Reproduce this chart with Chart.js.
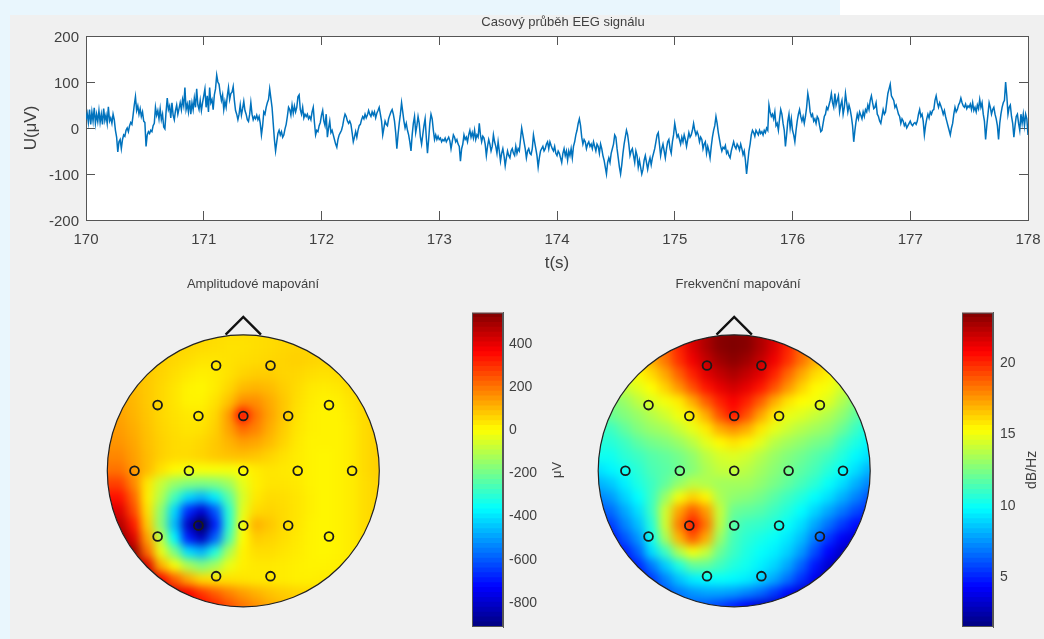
<!DOCTYPE html>
<html lang="cs">
  <head>
    <meta charset="UTF-8" />
    <title>EEG mapovani</title>
    <style>
      html, body { margin: 0; height: 100%; overflow: hidden; background: #f0f0f0; }
      canvas { position: absolute; filter: blur(0.45px); }
      .pas { position: absolute; }
    </style>
  </head>

  <body>
    <div class="pas" style="left:0;top:0;width:840px;height:15px;background:#e9f6fd"></div>
    <div class="pas" style="left:840px;top:0;width:204px;height:15px;background:#ffffff"></div>
    <div class="pas" style="left:0;top:0;width:10px;height:639px;background:#e9f6fd"></div>
    <canvas id="signal" style="left:10px;top:13px" width="1106" height="262"></canvas>
    <canvas id="mapaA" style="left:0;top:270px" width="506" height="376"></canvas>
    <canvas id="barA" style="left:462px;top:300px" width="110" height="339"></canvas>
    <canvas id="mapaF" style="left:485px;top:270px" width="506" height="376"></canvas>
    <canvas id="barF" style="left:952px;top:300px" width="92" height="339"></canvas>
    <script src="https://cdn.jsdelivr.net/npm/chart.js"></script>
    <script>
      const casStart = 170;
      const casKrok = 0.01;
      const signal = [
        18,32,12,40,8,35,15,44,10,30,
        14,38,12,30,8,42,16,28,10,46,
        15,22,10,30,18,-5,-20,-52,-30,-25,
        -45,-25,-15,-18,-5,0,-8,5,12,8,
        28,50,68,38,48,30,42,25,35,15,
        12,-40,-15,-8,-12,-5,-8,5,10,45,
        28,38,20,42,18,30,2,-2,35,65,
        40,48,22,55,28,18,38,50,30,42,
        55,40,62,48,88,40,52,35,60,30,
        55,40,65,45,85,50,40,60,38,55,
        70,85,45,70,35,88,55,62,40,72,
        85,115,100,95,75,60,72,40,58,45,
        70,88,62,75,78,90,60,38,30,18,
        30,50,28,42,58,38,30,18,14,30,
        55,30,18,25,20,28,18,25,10,-15,
        5,35,30,45,55,62,85,65,45,10,
        -25,-50,-30,-12,-5,-15,-8,-20,-15,-2,
        8,25,45,40,28,50,32,48,35,45,
        68,72,40,30,45,22,30,25,30,20,
        25,18,35,45,12,-15,-5,-8,5,12,
        28,38,15,5,30,-20,0,15,-10,-5,
        -15,-25,-35,-42,-25,-15,-10,-5,5,20,
        30,25,15,10,15,8,-10,-30,-20,-8,
        -20,-5,5,8,18,25,20,30,22,28,
        38,30,25,35,28,35,22,32,38,45,
        30,15,-15,0,15,8,5,20,28,35,
        40,30,15,-10,-45,-15,10,30,55,35,
        15,0,10,-5,-15,-30,-50,-15,10,25,
        -10,5,25,10,-20,-35,-15,5,20,-20,
        -55,-25,10,30,20,-5,-25,-15,-25,-18,
        -25,-22,-30,-25,-28,-22,-30,-25,-20,-28,
        -45,-30,-15,-20,-30,-25,-35,-40,-72,-45,
        -35,-15,-25,-20,-30,-15,-5,-20,-10,-22,
        -5,-25,-15,-20,10,-15,-30,-18,-22,-35,
        -60,-40,-25,-35,-50,-40,-15,-30,-40,-55,
        -30,-50,-72,-55,-45,-60,-82,-65,-50,-60,
        -65,-50,-45,-55,-60,-40,-55,-45,-50,-25,
        0,-15,-30,-45,-65,-50,-45,-55,-58,-45,
        -15,-30,-45,-60,-85,-65,-50,-45,-40,-50,
        -45,-35,-30,-45,-30,-38,-45,-50,-40,-55,
        -60,-50,-55,-65,-75,-55,-45,-60,-50,-70,
        -50,-60,-45,-65,-40,-30,-15,-5,10,20,
        5,-20,-35,-25,-30,-45,-35,-30,-40,-35,
        -45,-30,-40,-50,-35,-40,-55,-35,-45,-60,
        -70,-85,-100,-75,-65,-75,-55,-45,-35,-15,
        -20,-45,-65,-85,-100,-80,-55,-35,-20,-5,
        -15,-35,-60,-50,-45,-60,-75,-50,-60,-85,
        -70,-85,-100,-90,-70,-60,-75,-90,-75,-65,
        -80,-65,-55,-45,-30,-15,-10,-35,-60,-45,
        -35,-50,-65,-45,-30,-25,-45,-55,-30,-15,
        10,-5,-20,-15,-25,-35,-20,-30,-15,-25,
        -40,-25,-10,-20,-15,-5,10,-5,-15,-8,
        -15,-30,-20,-25,-45,-35,-30,-55,-40,-50,
        -65,-40,-20,-5,5,25,10,-10,-25,-40,
        -50,-42,-45,-38,-55,-50,-60,-65,-50,-40,
        -30,-40,-45,-35,-40,-48,-35,-45,-58,-50,
        -70,-100,-75,-50,-35,-15,-5,-10,-18,-5,
        -10,-15,-5,-12,-8,-15,-5,-10,0,-5,
        50,35,25,30,20,35,5,10,-5,20,
        40,30,10,-5,-40,-15,15,30,0,20,
        -5,-15,-30,-5,15,30,40,25,15,25,
        10,25,45,75,60,35,25,30,15,20,
        10,25,20,5,-8,-5,10,25,30,45,
        40,50,60,75,55,45,75,50,60,70,
        35,50,60,30,45,75,55,35,50,40,
        25,5,-30,-5,15,30,20,35,28,20,
        35,25,40,35,50,40,60,70,55,42,
        45,55,30,25,15,10,25,40,30,35,
        55,75,85,95,70,65,60,45,50,40,
        30,25,10,20,15,5,10,0,5,10,
        15,8,5,10,12,8,15,30,40,25,
        30,15,-15,5,20,30,22,35,30,38,
        40,60,70,55,45,55,48,40,30,38,
        25,15,5,-5,-15,0,10,30,45,35,
        40,50,55,65,55,48,45,52,42,48,
        45,52,40,55,38,45,35,50,42,62,
        45,55,30,15,-25,5,30,55,45,30,
        40,45,30,20,5,-25,10,30,45,55,
        60,100,70,30,45,50,25,10,-20,5,
        25,30,10,-5,30,10,30,5,30,20,
        -15
      ];
      const signalTickyY = [-200, -100, 0, 100, 200];

      const mrizka = [-1,-0.9,-0.8,-0.7,-0.6,-0.5,-0.4,-0.3,-0.2,-0.1,0,0.1,0.2,0.3,0.4,0.5,0.6,0.7,0.8,0.9,1];
      const elektrodyX = [-0.2,0.2,-0.63,-0.33,0,0.33,0.63,-0.8,-0.4,0,0.4,0.8,-0.63,-0.33,0,0.33,0.63,-0.2,0.2];
      const elektrodyY = [0.77,0.77,0.48,0.4,0.4,0.4,0.48,0,0,0,0,0,-0.48,-0.4,-0.4,-0.4,-0.48,-0.77,-0.77];
      const nosX = [-0.13, 0, 0.13];
      const nosY = [0.995, 1.125, 0.995];

      // radky od y=1 dolu k y=-1, sloupce od x=-1 do x=1
      const amplituda = [
        [80,80,80,70,60,55,50,45,40,35,35,35,40,45,50,50,50,50,50,50,50],
        [80,80,80,70,60,50,45,40,35,30,30,35,40,45,50,50,50,50,50,50,50],
        [85,85,85,70,55,45,35,25,25,30,35,40,45,50,55,50,45,50,50,50,50],
        [90,90,85,65,50,35,20,10,15,30,50,60,60,50,45,35,30,35,45,50,50],
        [100,100,85,65,45,25,5,0,15,45,85,95,85,60,40,20,15,20,35,50,50],
        [110,110,90,65,45,25,5,5,30,75,150,150,110,70,35,15,5,10,25,45,50],
        [120,120,95,70,45,30,20,20,45,130,340,190,120,70,30,10,5,5,20,40,50],
        [130,130,105,75,50,35,25,30,55,120,200,165,105,60,25,10,5,5,15,40,55],
        [140,140,115,80,55,40,35,45,65,95,125,115,85,50,20,5,5,5,15,40,55],
        [160,160,125,85,55,40,40,50,65,75,80,70,50,30,15,5,0,5,15,40,55],
        [190,190,135,85,30,-5,-25,-20,-20,-25,-10,15,25,20,15,5,0,5,15,40,55],
        [260,260,160,20,-90,-160,-190,-200,-190,-150,-50,10,25,25,20,5,0,5,15,35,50],
        [330,330,210,10,-120,-280,-430,-480,-400,-250,-70,20,40,35,25,10,0,5,15,35,50],
        [400,400,250,30,-170,-430,-680,-800,-620,-320,-50,40,50,40,25,10,0,5,15,35,50],
        [460,460,320,60,-180,-470,-820,-1000,-700,-320,-25,100,70,40,25,5,0,5,15,35,50],
        [510,510,400,120,-100,-380,-700,-830,-600,-270,-10,60,50,35,20,5,0,5,15,35,50],
        [530,530,500,200,-40,-200,-420,-480,-330,-130,5,35,35,25,15,5,0,5,15,35,50],
        [530,530,520,400,100,-20,-130,-190,-140,-40,10,20,20,15,10,5,5,10,20,35,50],
        [530,530,520,500,360,220,110,40,30,30,25,20,20,15,10,10,15,20,30,40,50],
        [530,530,520,500,450,400,360,280,220,170,130,100,75,60,50,45,40,40,45,50,50],
        [500,500,500,480,450,420,400,350,300,240,190,150,110,85,70,60,55,50,50,50,50]
      ];
      const frekvence = [
        [15,15,15,16,17,18.5,20,21.5,22.5,23.3,23.4,23.3,22.5,21.5,20,18.5,17,16,15,15,15],
        [15,15,15,16,17,18.5,20,21.5,22.5,23.3,23.5,23.3,22.5,21.5,20,18.5,17,16,15,15,15],
        [14.5,14.5,15,16,17,18.2,19.7,21,22,22.8,23.2,22.8,22,21,19.7,18.3,17,16,15,14.5,14.5],
        [14,14,14.6,15.3,16,17.1,18.6,20,21.3,22,22.5,22,21.3,20,18.5,17.1,16,15.5,14.7,14,14],
        [13.5,13.5,14,14.6,15.2,16.2,17.5,19,20.3,21.2,21.7,21.2,20.3,19,17.5,16.2,15.3,15,14.2,13.5,13.5],
        [12.5,12.5,13,13.8,14.5,15,15.6,17,18.7,20,20.8,20,18.7,17,15.8,15.2,15,14.5,13.5,12.5,12],
        [12,12,12.5,13,13.6,14.2,14.9,15.6,17,19,20.3,19,17.2,15.7,14.8,14.5,14,13.5,12.8,11.8,11],
        [11,11,11.8,12.5,13,13.3,14,14.7,15.6,17,17.6,17,15.7,14.7,14.1,13.6,13.2,12.8,12,11,10],
        [10.5,10.5,11,11.7,12.2,12.5,13,13.7,14.6,15.3,15.8,15.4,14.6,13.7,13.2,12.8,12.3,12,11,10.3,9.5],
        [10,10,10.6,11,11.5,11.8,12.2,12.8,13.7,14.3,14.5,14.2,13.6,13,12.5,12.1,11.6,11.1,10.4,9.6,9],
        [9,9.5,10,10.6,11.3,11.6,12,12.6,13.4,13.9,14,13.7,13.2,12.7,12.2,11.7,11.2,10.5,9.8,9,8],
        [8,8.5,9.4,10.3,11,11.8,12.9,13.7,13.5,13.2,13.2,13.2,12.8,12.3,11.8,11.2,10.6,9.8,9,8,7],
        [7,7.5,8.7,9.7,11,13,15,16.2,15.4,13.4,12.8,12.6,12.2,11.6,11,10.4,9.7,9,8,7,6],
        [6,6.5,7.8,9,11,14.2,17.2,18.8,17.4,14,12,11.8,11.5,11,10.4,9.7,8.8,7.8,6.8,5.8,5],
        [5,5.5,7,8.3,10.5,14.2,18,20.3,18.2,13.8,11.5,11,10.8,10.4,9.8,9,7.8,6.6,5.4,4.4,4],
        [4,4.5,6,7.4,10,13.3,16.8,18.8,17,13,11.2,10.6,10.2,9.8,9.2,8.3,6.8,5.3,4,3.3,3],
        [3.5,3.5,4.8,6.3,9,11,13.5,15,14,12,11,10.3,9.8,9.4,8.7,7.5,5.8,4.2,3,2.5,2.5],
        [3,3,3.8,5,6.8,8.6,10.3,11.8,11.8,11.1,10.4,10,9.4,8.8,7.8,6.3,4.6,3.2,2.2,2,2],
        [2.5,2.5,3,4,5.4,7,8.4,9.3,9.6,9.8,9.6,9.3,8.7,7.8,6.6,5.2,3.8,2.6,2,2,2],
        [3,3,3.3,4.2,5,6,6.8,7.4,7.7,7.7,7.5,7,6.4,5.4,4.3,3.2,2.6,2,2,2,2],
        [4,4,4.5,5,5.6,6,6.2,6.2,6,5.5,4.8,4,3.2,2.8,2.4,2,2,2,2,2,2]
      ];
      const rozsahA = [-921, 534];
      const rozsahF = [1.42, 23.48];
      const tickyA = [-800, -600, -400, -200, 0, 200, 400];
      const tickyF = [5, 10, 15, 20];

      const pismo = "'Liberation Sans', Arial, sans-serif";
      const barvaTextu = "#404040";
      const barvaOs = "#555555";

      function jet(v) {
        const c = (x) => Math.round(255 * Math.max(0, Math.min(1, x)));
        const r = c(Math.min(4 * v - 1.5, -4 * v + 4.5));
        const g = c(Math.min(4 * v - 0.5, -4 * v + 3.5));
        const b = c(Math.min(4 * v + 0.5, -4 * v + 2.5));
        return `rgb(${r},${g},${b})`;
      }

      // osa s pevnou velikosti, aby plocha grafu sedela na pixel
      const sirkaOsy = (w) => (s) => { s.width = w; s.paddingTop = 0; s.paddingBottom = 0; };
      const vyskaOsy = (h) => (s) => { s.height = h; s.paddingLeft = 0; s.paddingRight = 0; };
      const mrizkaTicku = { drawOnChartArea: false, tickLength: -9, tickColor: barvaOs };

      const ramecek = {
        id: "ramecek",
        beforeDraw(chart, args, o) {
          if (!o.pozadi) return;
          const a = chart.chartArea;
          chart.ctx.fillStyle = o.pozadi;
          chart.ctx.fillRect(a.left, a.top, a.width, a.height);
        },
        afterDraw(chart, args, o) {
          const a = chart.chartArea;
          const ctx = chart.ctx;
          ctx.save();
          if (o.hrana) {
            ctx.strokeStyle = barvaOs;
            ctx.lineWidth = 1;
            ctx.strokeRect(a.left + 0.5, a.top + 0.5, a.width - 1, a.height - 1);
          }
          if (o.jednotka) {
            ctx.translate(o.jednotkaX, (a.top + a.bottom) / 2 + o.jednotkaPosun);
            ctx.rotate(-Math.PI / 2);
            ctx.fillStyle = barvaTextu;
            ctx.font = `${o.jednotkaVelikost}px ${pismo}`;
            ctx.textAlign = "center";
            ctx.textBaseline = "middle";
            ctx.fillText(o.jednotka, 0, 0);
          }
          ctx.restore();
        },
      };

      // rozmazani bunek mapy a orez na kruh hlavy
      const hlava = {
        id: "hlava",
        afterDatasetDraw(chart, args) {
          if (args.index !== 0) return;
          const ctx = chart.ctx;
          const a = chart.chartArea;
          const kopie = document.createElement("canvas");
          kopie.width = chart.canvas.width;
          kopie.height = chart.canvas.height;
          kopie.getContext("2d").drawImage(chart.canvas, 0, 0);
          const sx = chart.scales.x;
          const sy = chart.scales.y;
          const cx = sx.getPixelForValue(0);
          const cy = sy.getPixelForValue(0);
          const r = sx.getPixelForValue(1) - cx;
          ctx.save();
          ctx.clearRect(a.left, a.top, a.width, a.height);
          ctx.beginPath();
          ctx.arc(cx, cy, r, 0, Math.PI * 2);
          ctx.clip();
          ctx.filter = "blur(5px)";
          ctx.drawImage(kopie, 0, 0);
          ctx.restore();
          ctx.beginPath();
          ctx.arc(cx, cy, r, 0, Math.PI * 2);
          ctx.strokeStyle = "#222222";
          ctx.lineWidth = 1.2;
          ctx.stroke();
        },
      };

      new Chart(document.querySelector("#signal"), {
        type: "line",
        data: {
          datasets: [
            {
              data: signal.map((u, i) => ({ x: casStart + i * casKrok, y: u })),
              borderColor: "#0072bd",
              borderWidth: 1.5,
              pointRadius: 0,
              tension: 0,
            },
          ],
        },
        plugins: [ramecek],
        options: {
          responsive: false,
          animation: false,
          devicePixelRatio: 1,
          plugins: {
            legend: { display: false },
            tooltip: { enabled: false },
            ramecek: { pozadi: "#ffffff" },
            title: {
              display: true,
              text: "Casový průběh EEG signálu",
              color: barvaTextu,
              font: { family: pismo, size: 13, weight: "normal" },
              padding: { top: 2, bottom: 5.4 },
            },
          },
          scales: {
            x: {
              type: "linear",
              min: 170,
              max: 178,
              afterFit: vyskaOsy(55),
              border: { color: barvaOs },
              grid: mrizkaTicku,
              ticks: { stepSize: 1, padding: 20, maxRotation: 0, color: barvaTextu, font: { family: pismo, size: 15 } },
              title: { display: true, text: "t(s)", color: barvaTextu, font: { family: pismo, size: 17 }, padding: { top: 0, bottom: 1 } },
            },
            y: {
              min: -200,
              max: 200,
              afterFit: sirkaOsy(76),
              afterBuildTicks: (s) => { s.ticks = signalTickyY.map((value) => ({ value })); },
              border: { color: barvaOs },
              grid: mrizkaTicku,
              ticks: { padding: 16, labelOffset: 2, color: barvaTextu, font: { family: pismo, size: 15 } },
              title: { display: true, text: "U(μV)", color: barvaTextu, font: { family: pismo, size: 17 }, padding: { top: 11, bottom: 0 } },
            },
            xHore: {
              type: "linear",
              axis: "x",
              position: "top",
              min: 170,
              max: 178,
              afterFit: vyskaOsy(0),
              border: { color: barvaOs },
              grid: mrizkaTicku,
              ticks: { stepSize: 1, display: false },
            },
            yVpravo: {
              type: "linear",
              axis: "y",
              position: "right",
              min: -200,
              max: 200,
              afterFit: sirkaOsy(88),
              afterBuildTicks: (s) => { s.ticks = signalTickyY.map((value) => ({ value })); },
              border: { color: barvaOs },
              grid: mrizkaTicku,
              ticks: { display: false },
            },
          },
        },
      });

      function nakresliMapu(id, nadpis, hodnoty, rozsah, vlevo, vpravo) {
        const bunky = [];
        hodnoty.forEach((radek, i) => {
          radek.forEach((v, j) => {
            bunky.push({ x: mrizka[j], y: -mrizka[i], v: v });
          });
        });
        const prazdnaOsa = { border: { display: false }, grid: { display: false }, ticks: { display: false } };
        return new Chart(document.querySelector(id), {
          type: "scatter",
          data: {
            datasets: [
              {
                data: bunky,
                order: 3,
                pointStyle: "rect",
                pointRadius: 11,
                borderWidth: 0,
                backgroundColor: (c) => {
                  const p = c.raw;
                  return p ? jet((p.v - rozsah[0]) / (rozsah[1] - rozsah[0])) : "#000";
                },
              },
              {
                data: nosX.map((x, i) => ({ x: x, y: nosY[i] })),
                order: 2,
                showLine: true,
                pointRadius: 0,
                borderColor: "#111111",
                borderWidth: 2.4,
              },
              {
                data: elektrodyX.map((x, i) => ({ x: x, y: elektrodyY[i] })),
                order: 1,
                pointRadius: 4.4,
                backgroundColor: "rgba(0,0,0,0)",
                borderColor: "#1a1a1a",
                borderWidth: 1.8,
              },
            ],
          },
          plugins: [hlava],
          options: {
            responsive: false,
            animation: false,
            devicePixelRatio: 1,
            layout: { padding: { left: 0, right: 0, top: 0, bottom: 0 } },
            plugins: {
              legend: { display: false },
              tooltip: { enabled: false },
              title: {
                display: true,
                text: nadpis,
                color: barvaTextu,
                font: { family: pismo, size: 13, weight: "normal" },
                padding: { top: 6.2, bottom: 14.8 },
              },
            },
            scales: {
              x: { type: "linear", min: -1.2, max: 1.2, display: false },
              y: { type: "linear", min: -1.2, max: 1.2, afterFit: sirkaOsy(vlevo), ...prazdnaOsa },
              yPrava: { type: "linear", axis: "y", position: "right", min: -1.2, max: 1.2, afterFit: sirkaOsy(vpravo), ...prazdnaOsa },
            },
          },
        });
      }

      function nakresliBar(id, rozsah, ticky, jednotka, jednotkaX, sirka, odsazeni, velikost, posunPopisku) {
        const urovne = [];
        for (let i = 63; i >= 0; i--) urovne.push(i);
        return new Chart(document.querySelector(id), {
          type: "bar",
          data: {
            labels: urovne,
            datasets: [
              {
                data: urovne.map(() => 1),
                yAxisID: "y",
                xAxisID: "x",
                barPercentage: 1.25,
                categoryPercentage: 1,
                borderWidth: 0,
                backgroundColor: urovne.map((u) => jet((u + 0.5) / 64)),
              },
            ],
          },
          plugins: [ramecek],
          options: {
            responsive: false,
            animation: false,
            devicePixelRatio: 1,
            indexAxis: "y",
            layout: { padding: { left: 10, right: 0, top: 12.7, bottom: 12 } },
            plugins: {
              legend: { display: false },
              tooltip: { enabled: false },
              ramecek: {
                hrana: true,
                jednotka: jednotka,
                jednotkaX: jednotkaX,
                jednotkaPosun: 0,
                jednotkaVelikost: velikost,
              },
            },
            scales: {
              x: { type: "linear", min: 0, max: 1, display: false },
              y: { type: "category", display: false },
              hodnota: {
                type: "linear",
                axis: "y",
                position: "right",
                offset: false,
                min: rozsah[0],
                max: rozsah[1],
                afterFit: sirkaOsy(sirka),
                afterBuildTicks: (s) => { s.ticks = ticky.map((value) => ({ value })); },
                border: { color: barvaOs },
                grid: { drawOnChartArea: false, offset: false, tickLength: -4, tickColor: barvaOs },
                ticks: { padding: odsazeni, labelOffset: posunPopisku, color: barvaTextu, font: { family: pismo, size: 14 } },
              },
            },
          },
        });
      }

      nakresliMapu("#mapaA", "Amplitudové mapování", amplituda, rozsahA, 80.1, 99.5);
      nakresliBar("#barA", rozsahA, tickyA, "μV", 95, 69, 10, 13, 2);
      nakresliMapu("#mapaF", "Frekvenční mapování", frekvence, rozsahF, 86, 93.6);
      nakresliBar("#barF", rozsahF, tickyF, "dB/Hz", 80, 51, 11, 14, 1);
    </script>
  </body>
</html>
